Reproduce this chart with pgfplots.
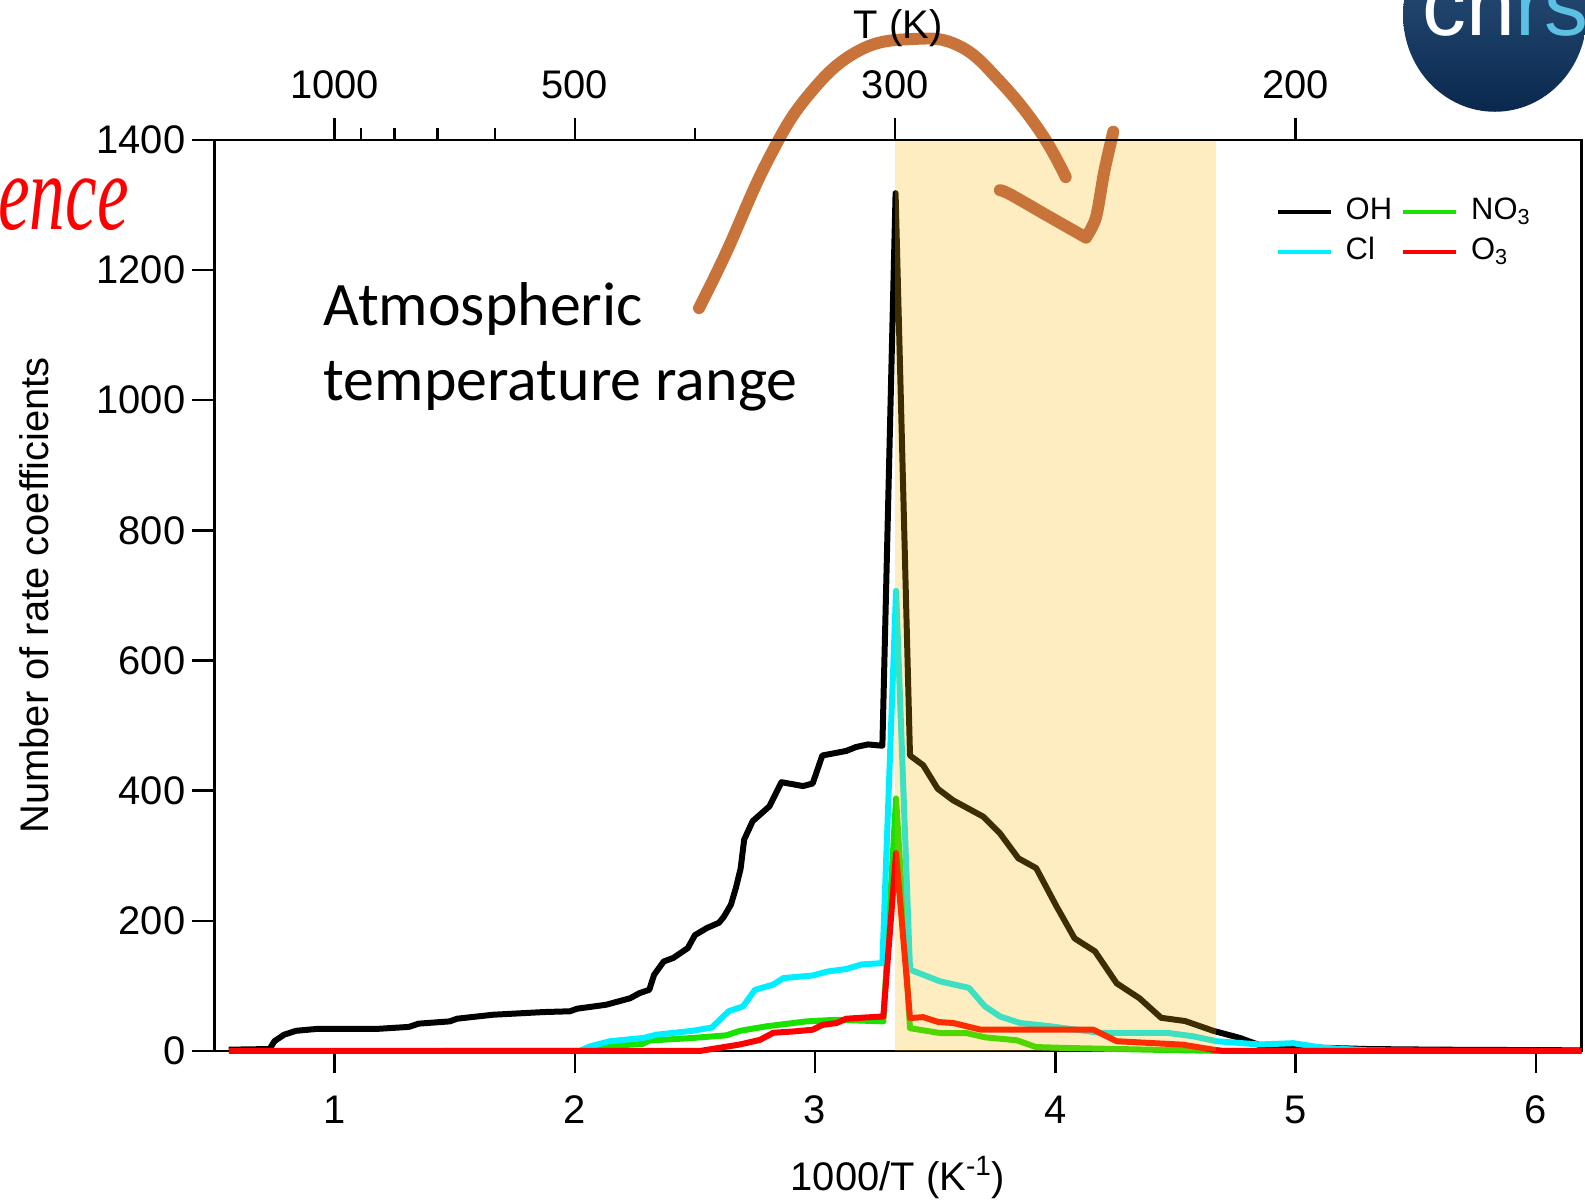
\documentclass[border=0pt]{standalone}
\usepackage{fontspec}
\setmainfont{Liberation Sans}
\newfontfamily\calibri{Carlito}
\newfontfamily\timesfam{Liberation Serif}
\usepackage{graphicx}
\usepackage{pgfplots}
\pgfplotsset{compat=1.18}

\definecolor{shadeor}{RGB}{247,183,7}
\definecolor{arrowbrown}{RGB}{200,115,58}
\definecolor{cnrsnavy}{RGB}{10,40,78}
\definecolor{cnrslight}{RGB}{48,90,132}
\definecolor{cnrsblue}{RGB}{92,192,226}
\definecolor{clcol}{RGB}{0,238,255}
\definecolor{nocol}{RGB}{25,225,0}
\definecolor{o3col}{RGB}{255,0,0}

\pgfplotsset{common/.style={
  scale only axis, width=685pt, height=456.5pt,
  xmin=0.5, xmax=6.19, ymin=0, ymax=1400,
  tick align=outside, major tick length=11pt, minor tick length=6pt,
  axis line style={line width=1.2pt},
  every tick/.style={black, line width=1.2pt},
  tick label style={font=\fontsize{20}{24}\selectfont},
  label style={font=\fontsize{20}{24}\selectfont},
  /pgf/number format/assume math mode=true,
  /pgf/number format/1000 sep={},
  clip=false,
}}

\begin{document}
\begin{tikzpicture}
\begin{axis}[common,
  xtick={1,2,3,4,5,6}, ytick={0,200,...,1400},
  xtick pos=left, ytick pos=left,
  xticklabel style={yshift=-8pt},
  xlabel={1000/T (K\textsuperscript{-1})},
  xlabel style={at={(rel axis cs:0.5,-0.1527)}, anchor=base},
  ylabel={Number of rate coefficients},
  ylabel style={at={(rel axis cs:-0.1213,0.5)}, anchor=base},
  legend columns=2,
  legend cell align=left,
  legend style={draw=none, fill=none, inner sep=0pt,
    at={(axis cs:4.915,1258)}, anchor=west,
    font=\fontsize{15.5}{18}\selectfont,
    nodes={inner sep=1.5pt, text height=11pt, text depth=4pt},
    row sep=2pt,
    /tikz/every even column/.append style={column sep=3pt}},
  legend image code/.code={\draw[#1, line width=2.2pt] (0pt,0pt) -- (26.5pt,0pt); \path (31pt,0pt);},
  every axis plot/.append style={line width=3pt, line join=round},
]
% OH
\addplot[black] coordinates {
 (0.56,2) (0.73,3) (0.75,15) (0.79,25) (0.84,31) (0.93,34) (1.18,34) (1.31,37)
 (1.35,42) (1.48,45.5) (1.51,49.6) (1.66,55.7) (1.87,59.8) (1.98,61) (2.01,65)
 (2.13,71) (2.18,76) (2.23,81) (2.27,89) (2.31,94) (2.33,117) (2.37,137.5)
 (2.41,143) (2.47,158) (2.50,178) (2.55,189) (2.60,197) (2.62,206) (2.65,225)
 (2.67,250) (2.69,280) (2.705,325) (2.74,353) (2.81,376) (2.86,413) (2.95,407)
 (2.99,411) (3.03,454) (3.13,461) (3.17,467) (3.22,471) (3.28,469) (3.335,1318)
 (3.395,454) (3.45,439) (3.51,403) (3.575,385) (3.70,360) (3.77,334) (3.846,296)
 (3.92,281) (4.005,222) (4.08,173) (4.165,153) (4.255,104) (4.35,81) (4.44,51)
 (4.54,46) (4.657,31) (4.768,20) (4.865,7) (5.0,6) (5.11,5) (5.30,3) (5.6,2) (6.19,1)
};
\addlegendentry{OH}
% NO3
\addplot[nocol] coordinates {
 (2.02,0) (2.12,7.5) (2.28,10.7) (2.31,16) (2.49,20) (2.63,24) (2.687,31) (2.80,38)
 (2.91,43) (2.965,45.5) (3.09,48) (3.284,45.5) (3.337,388) (3.395,35) (3.52,27.6)
 (3.63,27.6) (3.707,21) (3.84,16.4) (3.92,6) (4.05,4.6) (4.46,1.5) (4.7,0) (5.6,0)
};
\addlegendentry{NO\textsubscript{3}}
% Cl
\addplot[clcol] coordinates {
 (1.45,0) (2.02,0) (2.063,7) (2.146,15) (2.285,20) (2.34,25) (2.49,31) (2.57,36)
 (2.64,61) (2.70,68.5) (2.75,94) (2.826,102) (2.868,112) (2.99,116) (3.05,122)
 (3.13,126) (3.194,133) (3.28,135) (3.337,707) (3.395,125) (3.52,107) (3.64,97)
 (3.707,68.5) (3.77,53) (3.853,43) (3.977,38) (4.186,28) (4.463,28) (4.574,22.5)
 (4.67,15) (4.85,10) (4.99,12) (5.11,5) (5.3,1) (5.6,0) (6.0,0)
};
\addlegendentry{Cl}
% O3
\addplot[o3col] coordinates {
 (0.56,0) (2.52,0) (2.687,10) (2.77,17) (2.826,28) (2.91,30) (2.99,32.7) (3.03,40)
 (3.09,43) (3.13,49.6) (3.215,51.6) (3.284,53) (3.337,304) (3.395,50.6) (3.45,52)
 (3.513,44.5) (3.575,43) (3.69,32.7) (4.158,32.7) (4.255,15) (4.53,9.7) (4.657,2)
 (4.7,0) (6.19,0)
};
\addlegendentry{O\textsubscript{3}}

% atmospheric range, tinted over the curves
\fill[shadeor, fill opacity=0.25] (axis cs:3.3333,0) rectangle (axis cs:4.667,1400);

\node[anchor=base west, inner sep=0pt, font=\calibri\fontsize{31}{37}\selectfont]
  at (axis cs:0.954,1115) {Atmospheric};
\node[anchor=base west, inner sep=0pt, font=\calibri\fontsize{31}{37}\selectfont]
  at (axis cs:0.954,999) {temperature range};

% hand-drawn arrow
\draw[arrowbrown, line width=6pt, line cap=round, line join=round]
  plot[smooth, tension=0.7] coordinates {(axis cs:2.517,1141.4) (axis cs:2.630,1226.6)
  (axis cs:2.800,1366) (axis cs:2.968,1466.6) (axis cs:3.179,1536.3) (axis cs:3.410,1554.9)
  (axis cs:3.600,1544.1) (axis cs:3.769,1489.8) (axis cs:3.937,1412.4) (axis cs:4.043,1342.7)};
\draw[arrowbrown, line width=6pt, line cap=round, line join=round]
  plot[smooth, tension=0.5] coordinates {(axis cs:3.769,1322.6) (axis cs:3.811,1316.4)
  (axis cs:3.979,1280.8) (axis cs:4.127,1249.8)};
\draw[arrowbrown, line width=6pt, line cap=round, line join=round]
  plot[smooth, tension=0.5] coordinates {(axis cs:4.127,1249.8) (axis cs:4.169,1280.8)
  (axis cs:4.203,1350.5) (axis cs:4.241,1412.4)};

% fragment of slide title at the left edge
\node[anchor=base east, inner sep=0pt, text=red] at (axis cs:0.145,1262)
  {\smash{\scalebox{0.66}[1]{\timesfam\itshape\fontsize{54}{54}\selectfont ence}}};

% logo corner
\shade[top color=cnrslight, bottom color=cnrsnavy]
  (axis cs:5.829,1591.8) ellipse [x radius=46pt, y radius=48.5pt];
\node[anchor=base west, inner sep=0pt] at (axis cs:5.526,1561)
  {\fontsize{44}{44}\selectfont\textcolor{white}{cn}\textcolor{cnrsblue}{rs}};

\coordinate (bbsw) at (axis cs:-0.392,-228.5);
\coordinate (bbne) at (axis cs:6.204,1614.8);
\end{axis}

\begin{axis}[common,
  axis x line*=top, axis y line=none,
  xtick={1,2,3.3333,5}, xticklabels={1000,500,300,200},
  minor xtick={1.1111,1.25,1.4286,1.6667,2.5},
  xticklabel style={yshift=6pt},
  xlabel={T (K)},
  xlabel style={at={(rel axis cs:0.5,1.1107)}, anchor=base},
]
\addplot[draw=none] coordinates {(1,0)};
\end{axis}
\pgfresetboundingbox
\path[use as bounding box] (bbsw) rectangle (bbne);
\end{tikzpicture}
\end{document}
